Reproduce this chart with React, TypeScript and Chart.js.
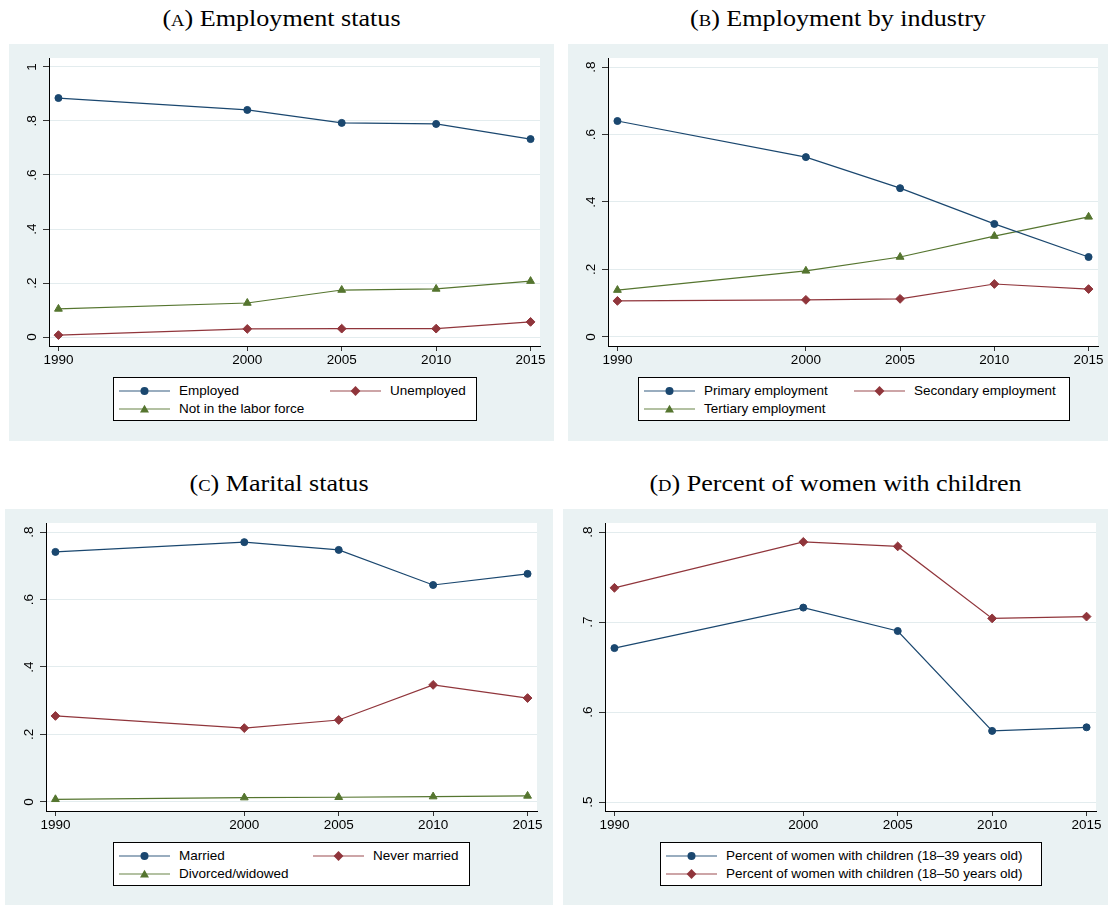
import React, { useEffect, useRef } from 'react';
import { Chart, registerables } from 'chart.js';

Chart.register(...registerables);

// ---------- data ----------
const YEARS = [1990, 2000, 2005, 2010, 2015];
const X_TICK_LABELS = ['1990', '2000', '2005', '2010', '2015'];

// (a) Employment status
const EMPLOYED = [0.885, 0.841, 0.793, 0.789, 0.733];
const UNEMPLOYED = [0.007, 0.03, 0.031, 0.031, 0.056];
const NOT_IN_LABOR_FORCE = [0.104, 0.126, 0.174, 0.178, 0.207];
const Y_TICKS_A = [0, 0.2, 0.4, 0.6, 0.8, 1];
const Y_LABELS_A = ['0', '.2', '.4', '.6', '.8', '1'];

// (b) Employment by industry
const PRIMARY = [0.64, 0.533, 0.441, 0.335, 0.237];
const SECONDARY = [0.107, 0.11, 0.113, 0.157, 0.142];
const TERTIARY = [0.139, 0.196, 0.237, 0.299, 0.356];
const Y_TICKS_B = [0, 0.2, 0.4, 0.6, 0.8];
const Y_LABELS_B = ['0', '.2', '.4', '.6', '.8'];

// (c) Marital status
const MARRIED = [0.741, 0.77, 0.747, 0.643, 0.676];
const NEVER_MARRIED = [0.255, 0.219, 0.243, 0.347, 0.308];
const DIVORCED_WIDOWED = [0.008, 0.013, 0.014, 0.016, 0.018];
const Y_TICKS_C = [0, 0.2, 0.4, 0.6, 0.8];
const Y_LABELS_C = ['0', '.2', '.4', '.6', '.8'];

// (d) Percent of women with children
const CHILDREN_18_39 = [0.671, 0.716, 0.69, 0.579, 0.583];
const CHILDREN_18_50 = [0.738, 0.789, 0.784, 0.704, 0.706];
const Y_TICKS_D = [0.5, 0.6, 0.7, 0.8];
const Y_LABELS_D = ['.5', '.6', '.7', '.8'];

// ---------- styles ----------
const NAVY = '#1a476f';
const MAROON = '#90353b';
const GREEN = '#55752f';
const PANEL_BG = '#eaf2f3';
const GRID = '#e3ecee';
const SANS = '"Liberation Sans", Arial, Helvetica, sans-serif';
const SERIF = '"Liberation Serif", "Times New Roman", serif';
const FONT_SIZE = 13.5;

type Marker = 'circle' | 'rectRot' | 'triangle';
const MARKER_RADIUS: Record<Marker, number> = { circle: 3.5, rectRot: 4.4, triangle: 4.5 };

interface Series { label: string; data: number[]; color: string; marker: Marker }
interface Box { x: number; y: number; w: number; h: number }
interface Area { left: number; right: number; top: number; bottom: number }
interface LegendSpec { x: number; y: number; w: number; h: number; cols: number[]; rows: number[] }

interface PanelSpec {
  tag: string;
  title: string;
  box: Box;
  area: Area; // page coordinates of the plot region
  yMin: number;
  yMax: number;
  yTicks: number[];
  yLabels: string[];
  series: Series[];
  legend: LegendSpec;
  titleY: number;
}

const PANELS: PanelSpec[] = [
  {
    tag: 'a', title: 'Employment status', titleY: 1.5,
    box: { x: 9, y: 44, w: 545, h: 397 },
    area: { left: 49, right: 540, top: 58, bottom: 346 },
    yMin: -0.0333, yMax: 1.0333, yTicks: Y_TICKS_A, yLabels: Y_LABELS_A,
    series: [
      { label: 'Employed', data: EMPLOYED, color: NAVY, marker: 'circle' },
      { label: 'Unemployed', data: UNEMPLOYED, color: MAROON, marker: 'rectRot' },
      { label: 'Not in the labor force', data: NOT_IN_LABOR_FORCE, color: GREEN, marker: 'triangle' },
    ],
    legend: { x: 113, y: 377, w: 364, h: 44, cols: [6, 217], rows: [13.5, 31.5] },
  },
  {
    tag: 'b', title: 'Employment by industry', titleY: 1.5,
    box: { x: 568, y: 44, w: 540, h: 397 },
    area: { left: 608, right: 1098, top: 58, bottom: 346 },
    yMin: -0.0267, yMax: 0.8267, yTicks: Y_TICKS_B, yLabels: Y_LABELS_B,
    series: [
      { label: 'Primary employment', data: PRIMARY, color: NAVY, marker: 'circle' },
      { label: 'Secondary employment', data: SECONDARY, color: MAROON, marker: 'rectRot' },
      { label: 'Tertiary employment', data: TERTIARY, color: GREEN, marker: 'triangle' },
    ],
    legend: { x: 638, y: 377, w: 432, h: 44, cols: [6, 216], rows: [13.5, 31.5] },
  },
  {
    tag: 'c', title: 'Marital status', titleY: 467,
    box: { x: 5, y: 509, w: 548, h: 396 },
    area: { left: 46, right: 537, top: 523, bottom: 811 },
    yMin: -0.0267, yMax: 0.8267, yTicks: Y_TICKS_C, yLabels: Y_LABELS_C,
    series: [
      { label: 'Married', data: MARRIED, color: NAVY, marker: 'circle' },
      { label: 'Never married', data: NEVER_MARRIED, color: MAROON, marker: 'rectRot' },
      { label: 'Divorced/widowed', data: DIVORCED_WIDOWED, color: GREEN, marker: 'triangle' },
    ],
    legend: { x: 113, y: 842, w: 357, h: 44, cols: [6, 200], rows: [13.5, 31.5] },
  },
  {
    tag: 'd', title: 'Percent of women with children', titleY: 467,
    box: { x: 563, y: 509, w: 545, h: 396 },
    area: { left: 605, right: 1096, top: 523, bottom: 811 },
    yMin: 0.49, yMax: 0.81, yTicks: Y_TICKS_D, yLabels: Y_LABELS_D,
    series: [
      { label: 'Percent of women with children (18\u201339 years old)', data: CHILDREN_18_39, color: NAVY, marker: 'circle' },
      { label: 'Percent of women with children (18\u201350 years old)', data: CHILDREN_18_50, color: MAROON, marker: 'rectRot' },
    ],
    legend: { x: 660, y: 842, w: 382, h: 44, cols: [6], rows: [13.5, 31.5] },
  },
];

const X_MIN = 1989.5;
const X_MAX = 2015.5;
const X_AXIS_H = 30;

const plotBackground = {
  id: 'plotBackground',
  beforeDraw(chart: any) {
    const { ctx, chartArea: a, width, height } = chart;
    ctx.save();
    ctx.fillStyle = PANEL_BG;
    ctx.fillRect(0, 0, width, height);
    ctx.fillStyle = '#ffffff';
    ctx.fillRect(a.left, a.top, a.right - a.left, a.bottom - a.top);
    ctx.restore();
  },
};

function PanelChart({ p }: { p: PanelSpec }) {
  const ref = useRef<HTMLCanvasElement>(null);
  useEffect(() => {
    const { box, area } = p;
    const padTop = area.top - box.y;
    const padRight = box.x + box.w - area.right;
    const padBottom = box.y + box.h - area.bottom - X_AXIS_H;
    const yWidth = area.left - box.x;
    const chart = new Chart(ref.current as HTMLCanvasElement, {
      type: 'line',
      data: {
        datasets: p.series.map((s) => ({
          label: s.label,
          data: YEARS.map((x, i) => ({ x, y: s.data[i] })),
          borderColor: s.color,
          backgroundColor: s.color,
          pointBackgroundColor: s.color,
          pointBorderColor: s.color,
          pointBorderWidth: 1,
          borderWidth: 1.2,
          pointStyle: s.marker,
          pointRadius: MARKER_RADIUS[s.marker],
          tension: 0,
          fill: false,
        })),
      },
      options: {
        animation: false,
        responsive: false,
        devicePixelRatio: 1,
        layout: { padding: { left: 0, top: padTop, right: padRight, bottom: padBottom } },
        plugins: { legend: { display: false }, tooltip: { enabled: false }, title: { display: false } },
        scales: {
          x: {
            type: 'linear',
            min: X_MIN,
            max: X_MAX,
            afterBuildTicks: (s: any) => { s.ticks = YEARS.map((v) => ({ value: v })); },
            afterFit: (s: any) => { s.height = X_AXIS_H; },
            ticks: {
              autoSkip: false,
              maxRotation: 0,
              minRotation: 0,
              padding: 1,
              color: '#000',
              font: { family: SANS, size: FONT_SIZE },
              callback: (_v: any, i: number) => X_TICK_LABELS[i],
            },
            grid: { display: true, drawOnChartArea: false, drawTicks: true, tickLength: 5, tickColor: '#333', tickWidth: 1 },
            border: { display: true, color: '#000', width: 1 },
          },
          y: {
            type: 'linear',
            min: p.yMin,
            max: p.yMax,
            afterBuildTicks: (s: any) => { s.ticks = p.yTicks.map((v) => ({ value: v })); },
            afterFit: (s: any) => { s.width = yWidth; },
            ticks: {
              autoSkip: false,
              minRotation: 90,
              maxRotation: 90,
              crossAlign: 'center',
              padding: 5,
              color: '#000',
              font: { family: SANS, size: FONT_SIZE },
              callback: (_v: any, i: number) => p.yLabels[i],
            },
            grid: { display: true, color: GRID, lineWidth: 1, drawTicks: true, tickLength: 6, tickColor: '#333', tickWidth: 1 },
            border: { display: true, color: '#000', width: 1 },
          },
        },
      } as any,
      plugins: [plotBackground],
    });
    return () => chart.destroy();
  }, [p]);
  return (
    <canvas
      ref={ref}
      width={p.box.w}
      height={p.box.h}
      style={{ position: 'absolute', left: p.box.x, top: p.box.y, width: p.box.w, height: p.box.h }}
    />
  );
}

function MarkerKey({ s }: { s: Series }) {
  const w = 51;
  const h = 12;
  const cx = w / 2;
  const cy = h / 2;
  let marker: React.ReactNode = null;
  if (s.marker === 'circle') {
    marker = <circle cx={cx} cy={cy} r={4} fill={s.color} />;
  } else if (s.marker === 'rectRot') {
    const r = 4.9;
    marker = <polygon points={`${cx},${cy - r} ${cx + r},${cy} ${cx},${cy + r} ${cx - r},${cy}`} fill={s.color} />;
  } else {
    const r = 5.2;
    const pts = [0, 1, 2].map((k) => {
      const a = -Math.PI / 2 + (k * 2 * Math.PI) / 3;
      return `${cx + r * Math.cos(a)},${cy + 1 + r * Math.sin(a)}`;
    });
    marker = <polygon points={pts.join(' ')} fill={s.color} />;
  }
  return (
    <svg width={w} height={h} style={{ position: 'absolute', left: 0, top: -h / 2 }}>
      <line x1={0} y1={cy} x2={w} y2={cy} stroke={s.color} strokeWidth={1.4} strokeOpacity={0.6} />
      {marker}
    </svg>
  );
}

function Legend({ p }: { p: PanelSpec }) {
  const L = p.legend;
  const ncol = L.cols.length;
  return (
    <div
      style={{
        position: 'absolute', left: L.x, top: L.y, width: L.w, height: L.h,
        boxSizing: 'border-box', border: '1px solid #000', background: '#fff',
      }}
    >
      {p.series.map((s, i) => {
        const col = i % ncol;
        const row = Math.floor(i / ncol);
        return (
          <div key={s.label} style={{ position: 'absolute', left: L.cols[col] - 1, top: L.rows[row] - 1 }}>
            <MarkerKey s={s} />
            <span
              style={{
                position: 'absolute', left: 60, top: -8, lineHeight: '16px', whiteSpace: 'nowrap',
                fontFamily: SANS, fontSize: FONT_SIZE, color: '#000',
              }}
            >
              {s.label}
            </span>
          </div>
        );
      })}
    </div>
  );
}

function Title({ p }: { p: PanelSpec }) {
  return (
    <div
      style={{
        position: 'absolute', left: p.box.x, top: p.titleY, width: p.box.w, height: 34,
        lineHeight: '34px', textAlign: 'center', fontFamily: SERIF, fontSize: 22.5,
        color: '#000', whiteSpace: 'nowrap', transform: 'scaleX(1.16)', transformOrigin: '50% 50%',
      }}
    >
      (<span style={{ fontVariant: 'small-caps' }}>{p.tag}</span>) {p.title}
    </div>
  );
}

export default function App() {
  return (
    <div style={{ position: 'absolute', left: 0, top: 0, width: 1108, height: 905, background: '#fff', overflow: 'hidden' }}>
      {PANELS.map((p) => (
        <React.Fragment key={p.tag}>
          <Title p={p} />
          <PanelChart p={p} />
          <Legend p={p} />
        </React.Fragment>
      ))}
    </div>
  );
}
